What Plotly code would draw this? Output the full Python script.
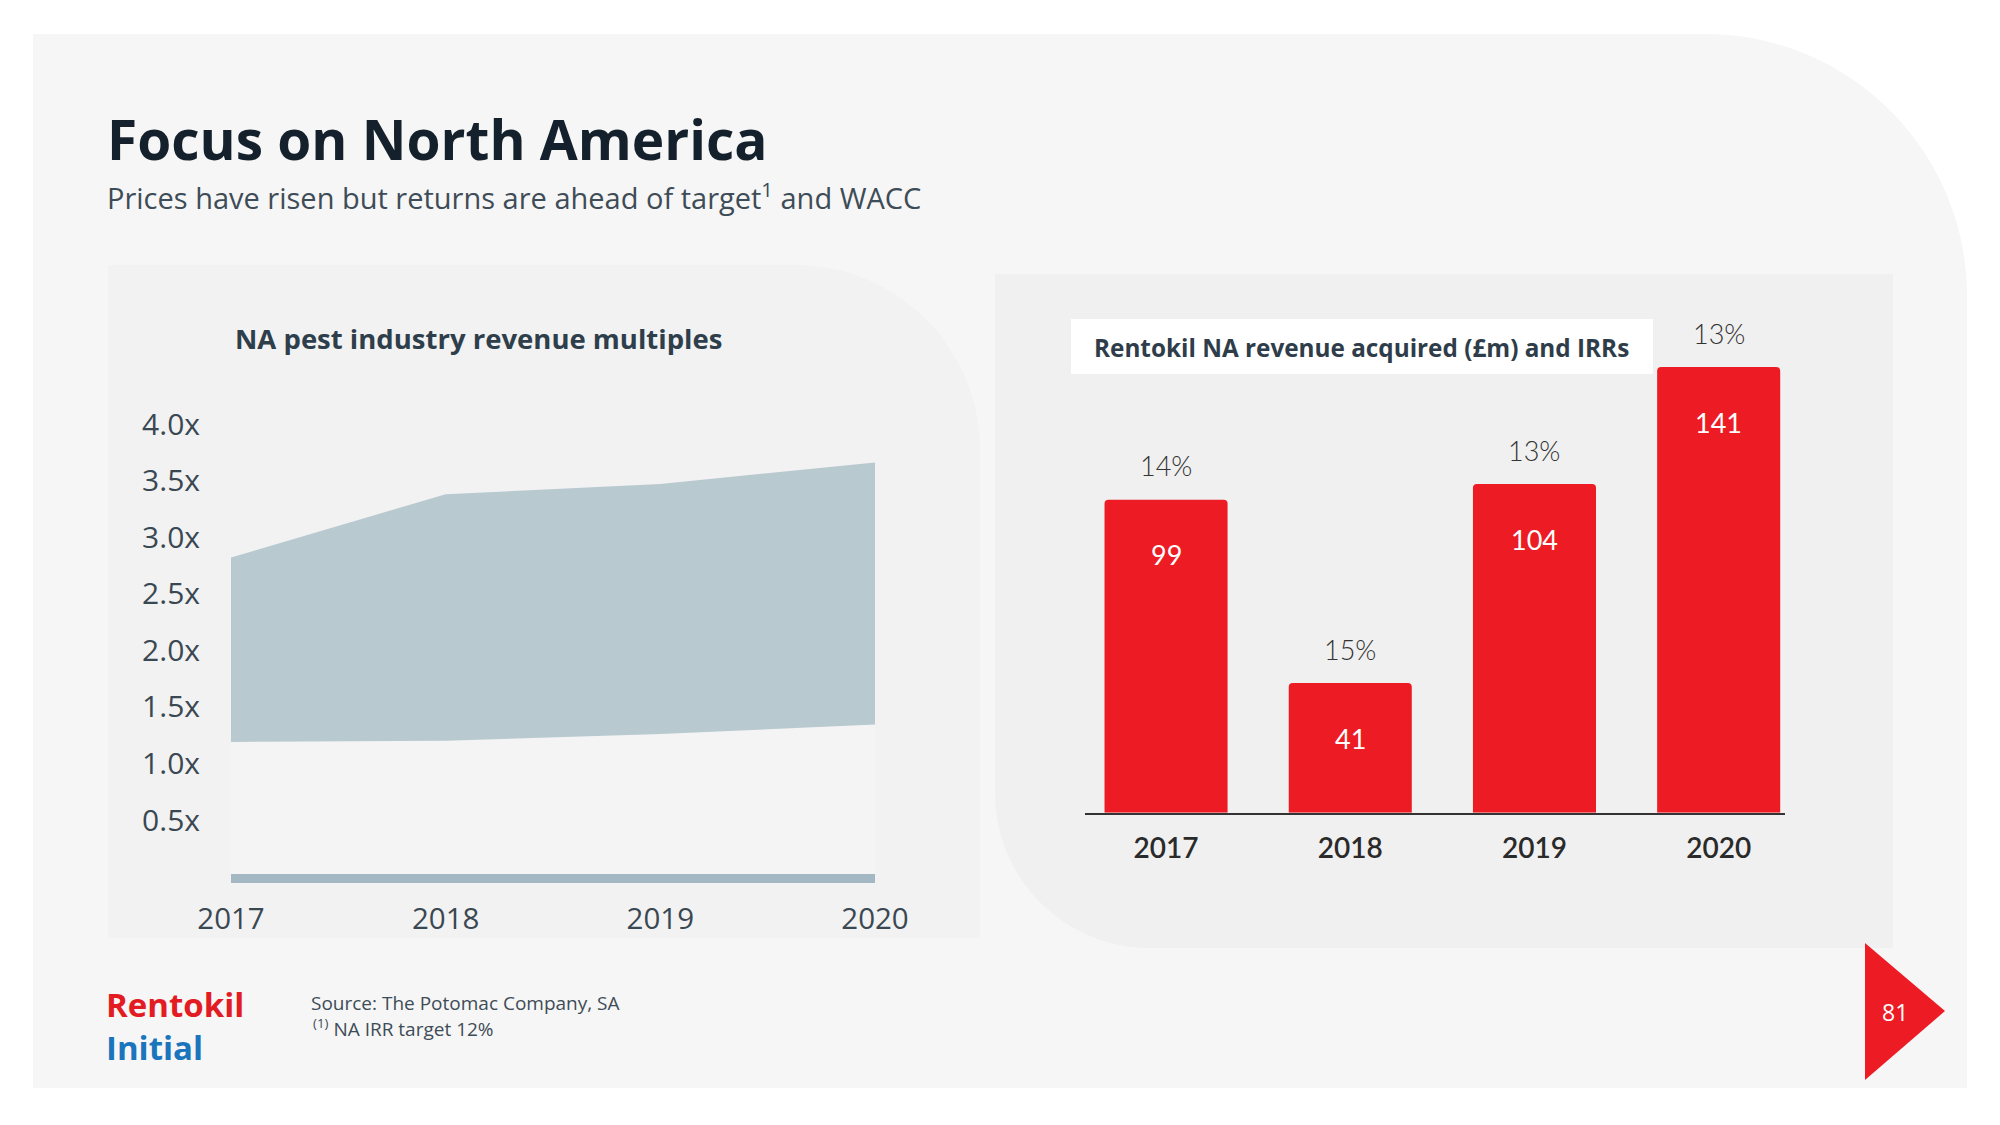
import plotly.graph_objects as go

W, H = 2000, 1125

# ---------------- data ----------------
years = [2017, 2018, 2019, 2020]
multiple_low = [1.19, 1.20, 1.26, 1.345]
multiple_high = [2.82, 3.38, 3.47, 3.66]
mult_ticks = [0.5, 1.0, 1.5, 2.0, 2.5, 3.0, 3.5, 4.0]
mult_tick_labels = ["0.5x", "1.0x", "1.5x", "2.0x", "2.5x", "3.0x", "3.5x", "4.0x"]

bar_years = ["2017", "2018", "2019", "2020"]
revenue_acquired = [99, 41, 104, 141]
irr_labels = ["14%", "15%", "13%", "13%"]

# ---------------- helpers ----------------
def P(x, y):
    return f"{x / W:.5f},{1 - y / H:.5f}"

K = 0.5523

def slide_path():
    r = 262
    x0, y0, x1, y1 = 33, 34, 1967, 1088
    return (f"M{P(x0, y0)} L{P(x1 - r, y0)} C{P(x1 - r + K * r, y0)} {P(x1, y0 + r - K * r)} {P(x1, y0 + r)} "
            f"L{P(x1, y1)} L{P(x0, y1)} Z")

def left_panel_path():
    r = 185
    x0, y0, x1, y1 = 108, 265, 980, 938
    return (f"M{P(x0, y0)} L{P(x1 - r, y0)} C{P(x1 - r + K * r, y0)} {P(x1, y0 + r - K * r)} {P(x1, y0 + r)} "
            f"L{P(x1, y1)} L{P(x0, y1)} Z")

def right_panel_path():
    r = 155
    x0, y0, x1, y1 = 995, 274, 1893, 948
    return (f"M{P(x0, y0)} L{P(x1, y0)} L{P(x1, y1)} L{P(x0 + r, y1)} C{P(x0 + r - K * r, y1)} {P(x0, y1 - r + K * r)} {P(x0, y1 - r)} Z")

def triangle_path():
    return f"M{P(1865, 943)} L{P(1945, 1011)} L{P(1865, 1080)} Z"

# ---------------- figure ----------------
fig = go.Figure()

fig.add_trace(go.Scatter(
    x=years, y=multiple_low, mode="lines", line=dict(width=0),
    fill="tozeroy", fillcolor="#f4f4f4", xaxis="x", yaxis="y",
    hoverinfo="skip", showlegend=False))
fig.add_trace(go.Scatter(
    x=years, y=multiple_high, mode="lines", line=dict(width=0),
    fill="tonexty", fillcolor="#b8c9d0", xaxis="x", yaxis="y",
    hoverinfo="skip", showlegend=False))

fig.add_trace(go.Bar(
    x=bar_years, y=revenue_acquired, width=0.668,
    marker=dict(color="#ed1c24", cornerradius=4, line=dict(width=0)),
    xaxis="x2", yaxis="y2", hoverinfo="skip", showlegend=False))

shapes = [
    dict(type="path", path=slide_path(), xref="paper", yref="paper",
         fillcolor="#f6f6f6", line=dict(width=0), layer="below"),
    dict(type="path", path=left_panel_path(), xref="paper", yref="paper",
         fillcolor="#f2f2f2", line=dict(width=0), layer="below"),
    dict(type="path", path=right_panel_path(), xref="paper", yref="paper",
         fillcolor="#f0f0f0", line=dict(width=0), layer="below"),
    dict(type="rect", xref="paper", yref="paper",
         x0=1071 / W, x1=1653 / W, y0=1 - 374 / H, y1=1 - 319 / H,
         fillcolor="#ffffff", line=dict(width=0), layer="below"),
    dict(type="path", path=triangle_path(), xref="paper", yref="paper",
         fillcolor="#ed1c24", line=dict(width=0), layer="above"),
]

DARK = "#3a4852"
annotations = [
    dict(text="<b>Focus on North America</b>", x=105 / W, y=1 - 138 / H,
         xref="paper", yref="paper", xanchor="left", yanchor="middle", showarrow=False,
         font=dict(family="Open Sans", size=55, color="#14212c")),
    dict(text="Prices have risen but returns are ahead of target<sup>1</sup> and WACC",
         x=105 / W, y=1 - 196 / H, xref="paper", yref="paper", xanchor="left",
         yanchor="middle", showarrow=False,
         font=dict(family="Open Sans", size=29, color="#3e4c57")),
    dict(text="<b>NA pest industry revenue multiples</b>", x=478 / W, y=1 - 338 / H,
         xref="paper", yref="paper", xanchor="center", yanchor="middle", showarrow=False,
         font=dict(family="Open Sans", size=27.5, color="#2e3e4b")),
    dict(text="<b>Rentokil NA revenue acquired (£m) and IRRs</b>", x=1092 / W, y=1 - 347 / H,
         xref="paper", yref="paper", xanchor="left", yanchor="middle", showarrow=False,
         font=dict(family="Open Sans", size=24.3, color="#2e3d49")),
    dict(text="Source: The Potomac Company, SA", x=309 / W, y=1 - 1003 / H,
         xref="paper", yref="paper", xanchor="left", yanchor="middle", showarrow=False,
         font=dict(family="Open Sans", size=19, color="#3e4c57")),
    dict(text="<sup>(1)</sup> NA IRR target 12%", x=311 / W, y=1 - 1028 / H,
         xref="paper", yref="paper", xanchor="left", yanchor="middle", showarrow=False,
         font=dict(family="Open Sans", size=19, color="#3e4c57")),
    dict(text="<b><span style='color:#e31b23'>Rentokil</span><br>"
              "<span style='color:#1a75bc'>Initial</span></b>",
         x=104 / W, y=1 - 1026 / H, align="left",
         xref="paper", yref="paper", xanchor="left", yanchor="middle", showarrow=False,
         font=dict(family="Open Sans", size=33, color="#e31b23")),
    dict(text="81", x=1895 / W, y=1 - 1012 / H,
         xref="paper", yref="paper", xanchor="center", yanchor="middle", showarrow=False,
         font=dict(family="Open Sans", size=23, color="#ffffff")),
]

for i, (val, irr) in enumerate(zip(revenue_acquired, irr_labels)):
    annotations.append(dict(text=irr, x=i, y=val, xref="x2", yref="y2", yshift=34,
                            showarrow=False, xanchor="center", yanchor="middle",
                            font=dict(family="Lato", size=27, weight=300, color="#333333")))
    annotations.append(dict(text=str(val), x=i, y=val, xref="x2", yref="y2", yshift=-55,
                            showarrow=False, xanchor="center", yanchor="middle",
                            font=dict(family="Lato", size=27, weight=400, color="#ffffff")))

fig.update_layout(
    width=W, height=H,
    margin=dict(l=0, r=0, t=0, b=0, pad=0, autoexpand=False),
    paper_bgcolor="#ffffff", plot_bgcolor="rgba(0,0,0,0)",
    showlegend=False,
    shapes=shapes,
    annotations=annotations,
    xaxis=dict(domain=[231 / W, 875 / W], anchor="y", range=[2017, 2020],
               tickvals=years, ticktext=[str(y) for y in years],
               showgrid=False, zeroline=False, showline=True, linewidth=9,
               linecolor="#a4b8c4", ticks="", ticklabelstandoff=11, automargin=False,
               tickfont=dict(family="Open Sans", size=29.5, color=DARK)),
    yaxis=dict(domain=[1 - 874 / H, 1 - 401.4 / H], anchor="x", range=[0.023, 4.2],
               tickvals=mult_ticks, ticktext=mult_tick_labels,
               showgrid=False, zeroline=False, showline=False, ticks="",
               ticklabelstandoff=30, automargin=False,
               tickfont=dict(family="Open Sans", size=30, color=DARK)),
    xaxis2=dict(domain=[1085 / W, 1785 / W], anchor="y2", type="category",
                range=[-0.44, 3.36], showgrid=False, zeroline=False,
                showline=True, linewidth=2, linecolor="#333333", ticks="",
                ticklabelstandoff=10, automargin=False,
                tickfont=dict(family="Lato", size=28, weight=600, color="#2a2a2a")),
    yaxis2=dict(domain=[1 - 812.7 / H, 1 - 307 / H], anchor="x2", range=[0, 160],
                visible=False, automargin=False),
    bargap=0.33,
)

fig.write_html("out.html", config={"displayModeBar": False},
               post_script="document.body.style.margin='0';")
